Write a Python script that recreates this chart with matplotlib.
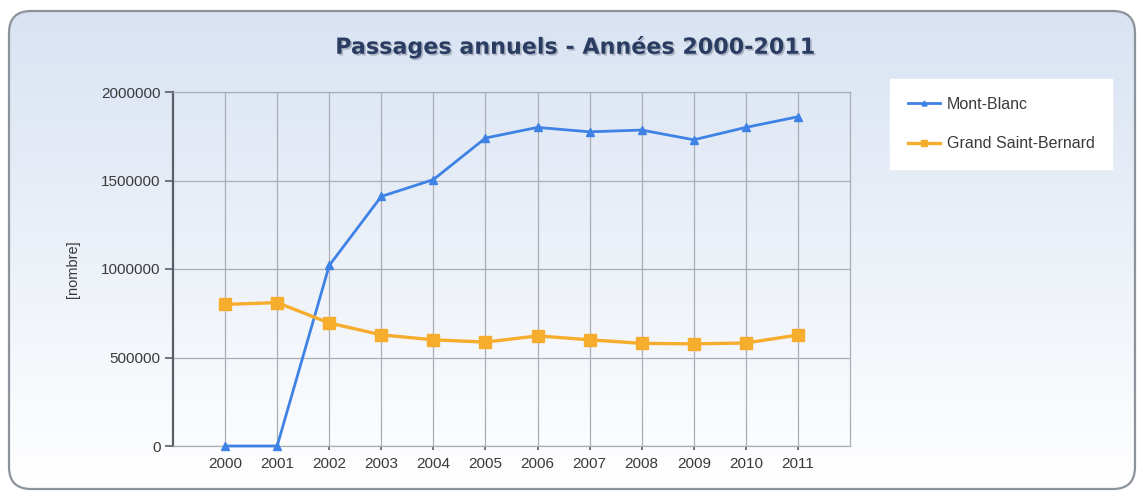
import numpy as np
import matplotlib.pyplot as plt
import matplotlib.patheffects as pe
from matplotlib.patches import FancyBboxPatch

# Données
annees = [2000, 2001, 2002, 2003, 2004, 2005, 2006, 2007, 2008, 2009, 2010, 2011]
mont_blanc = [0, 0, 1020000, 1410000, 1505000, 1740000, 1800000, 1775000,
              1785000, 1730000, 1800000, 1860000]
grand_st_bernard = [800000, 810000, 695000, 628000, 600000, 587000, 622000,
                    600000, 580000, 577000, 582000, 627000]
yticks = [0, 500000, 1000000, 1500000, 2000000]

fig = plt.figure(figsize=(11.43, 4.96), dpi=100)
fig.patch.set_facecolor('white')

# fond dégradé dans un cadre arrondi
bg = fig.add_axes([0, 0, 1, 1], zorder=-10)
bg.set_xlim(0, 1143)
bg.set_ylim(496, 0)
bg.axis('off')
grad = np.linspace(0, 1, 256).reshape(-1, 1)
top = np.array([0.85, 0.89, 0.95])
bot = np.array([1.0, 1.0, 1.0])
img = top + (bot - top) * grad[..., None]
box = FancyBboxPatch((9, 11), 1126, 478, boxstyle='round,pad=0,rounding_size=22',
                     facecolor='none', edgecolor='#8d939b', linewidth=1.6)
bg.add_patch(box)
im = bg.imshow(img, extent=(9, 1135, 489, 11), aspect='auto', zorder=0)
im.set_clip_path(box)

ax = fig.add_axes([173 / 1143, 1 - 446 / 496, (850 - 173) / 1143, (446 - 92) / 496])
ax.set_facecolor('none')

ax.plot(annees, mont_blanc, color='#3f82e6', linewidth=2, marker='^',
        markersize=6, label='Mont-Blanc', zorder=3, clip_on=False)
ax.plot(annees, grand_st_bernard, color='#f6ad2e', linewidth=2.4, marker='s',
        markersize=8, label='Grand Saint-Bernard', zorder=3)

ax.set_xlim(1999, 2012)
ax.set_ylim(0, 2000000)
ax.set_xticks(annees)
ax.set_xticklabels([str(a) for a in annees])
ax.set_yticks(yticks)
ax.set_yticklabels([str(v) for v in yticks])
ax.grid(True, color='#a9adb5', linewidth=0.9)
ax.set_axisbelow(True)

for s in ['top', 'right', 'bottom']:
    ax.spines[s].set_color('#a9adb5')
    ax.spines[s].set_linewidth(0.9)
ax.spines['left'].set_color('#5a5e66')
ax.spines['left'].set_linewidth(1.6)

ax.tick_params(axis='both', colors='#5a5e66', labelcolor='#3a3a3a',
               labelsize=11, width=1.2)
ax.tick_params(axis='y', length=6, pad=3)
ax.tick_params(axis='x', length=3, pad=5)
for lab in ax.get_xticklabels() + ax.get_yticklabels():
    lab.set_family('Liberation Sans')

ax.set_ylabel('[nombre]', fontsize=10.5, color='#3a3a3a', family='Liberation Sans',
              labelpad=15)

fig.text(576 / 1143, 1 - 47 / 496, 'Passages annuels - Années 2000-2011',
         ha='center', va='center', fontsize=16, fontweight='bold', color='#2a3c62',
         family='DejaVu Sans',
         path_effects=[pe.withSimplePatchShadow(offset=(1.2, -1.2), shadow_rgbFace='#7d8594', alpha=0.5)])

leg = fig.legend(loc='upper left', bbox_to_anchor=(890 / 1143, 1 - 79 / 496),
                 frameon=True, fancybox=False, facecolor='white', edgecolor='white',
                 framealpha=1, prop={'family': 'Liberation Sans', 'size': 11.5},
                 handlelength=2.0, handletextpad=0.45, labelspacing=1.55,
                 borderpad=1.1, borderaxespad=0, markerscale=0.6)
for t in leg.get_texts():
    t.set_color('#3a3a3a')

fig.savefig('out.png', dpi=100)
